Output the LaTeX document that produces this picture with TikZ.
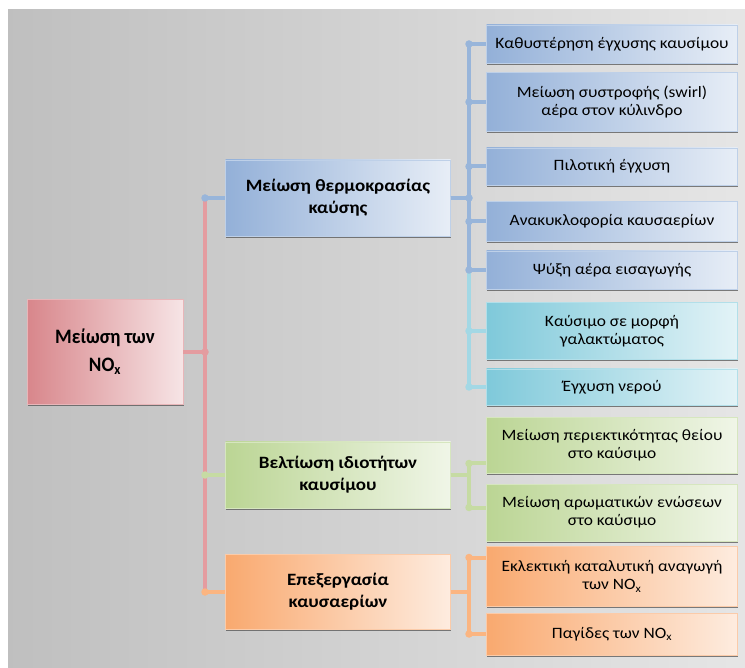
\documentclass[tikz,border=0pt]{standalone}
\usepackage{fontspec}
\setmainfont{Carlito}[FakeStretch=1.1]
\newfontfamily\rootfont{Carlito}[FakeStretch=0.93]
\usetikzlibrary{positioning,shadows}

\definecolor{rootred}{HTML}{D8868B}
\definecolor{tempblue}{HTML}{93B0D8}
\definecolor{emulcyan}{HTML}{7FC9DA}
\definecolor{fuelgreen}{HTML}{BBD594}
\definecolor{exhorange}{HTML}{F9A96F}
\definecolor{redline}{HTML}{E49CA0}
\definecolor{blueline}{HTML}{98B5DA}
\definecolor{cyanline}{HTML}{A3D8E5}
\definecolor{greenline}{HTML}{C6DBA3}
\definecolor{orangeline}{HTML}{FBB581}

\tikzset{
    box/.style={rectangle, align=center, inner sep=2pt, draw=#1!60!white, line width=0.5pt,
        left color=#1, right color=#1!22!white,
        drop shadow={shadow xshift=0.8pt, shadow yshift=-1.6pt, fill=black!70, opacity=0.7}},
    rootbox/.style={box=#1, minimum width=156pt, font=\rootfont\fontsize{20.5}{28}\selectfont\bfseries},
    mainbox/.style={box=#1, minimum width=225pt, font=\fontsize{17.3}{22}\selectfont\bfseries},
    subbox/.style={box=#1, minimum width=251pt, font=\fontsize{15.8}{18}\selectfont},
    link/.style={line width=4pt, draw=#1},
    dot/.style={circle, fill=#1, inner sep=0pt, minimum size=7.5pt},
}

\begin{document}
\begin{tikzpicture}[x=1pt, y=-1pt]
    % background
    \useasboundingbox (0,0) rectangle (745,668);
    \fill[white] (0,0) rectangle (745,668);
    \shade[left color=black!25, right color=black!10] (8,10) rectangle (745,668);

    % boxes
    \node[rootbox=rootred, minimum height=105pt] (root) at (105,352) {Μείωση των\\NO\textsubscript{x}};
    \node[mainbox=tempblue, minimum height=76pt] (temp) at (338,198) {Μείωση θερμοκρασίας\\καύσης};
    \node[mainbox=fuelgreen, minimum height=66pt] (fuel) at (338,475) {Βελτίωση ιδιοτήτων\\καυσίμου};
    \node[mainbox=exhorange, minimum height=75pt] (exh) at (338,592) {Επεξεργασία\\καυσαερίων};

    \node[subbox=tempblue, minimum height=38pt] (delay) at (612,44) {Καθυστέρηση έγχυσης καυσίμου};
    \node[subbox=tempblue, minimum height=59pt, below=9pt of delay] (swirl) {Μείωση συστροφής (swirl)\\αέρα στον κύλινδρο};
    \node[subbox=tempblue, minimum height=37pt, below=16pt of swirl] (pilot) {Πιλοτική έγχυση};
    \node[subbox=tempblue, minimum height=40pt, below=16pt of pilot] (egr) {Ανακυκλοφορία καυσαερίων};
    \node[subbox=tempblue, minimum height=38pt, below=9pt of egr] (cool) {Ψύξη αέρα εισαγωγής};
    \node[subbox=emulcyan, minimum height=57pt, below=13pt of cool] (emul) {Καύσιμο σε μορφή\\γαλακτώματος};
    \node[subbox=emulcyan, minimum height=36pt, below=9pt of emul] (water) {Έγχυση νερού};
    \node[subbox=fuelgreen, minimum height=56pt, below=12pt of water] (sulfur) {Μείωση περιεκτικότητας θείου\\στο καύσιμο};
    \node[subbox=fuelgreen, minimum height=57pt, below=10pt of sulfur] (arom) {Μείωση αρωματικών ενώσεων\\στο καύσιμο};
    \node[subbox=exhorange, minimum height=60pt, below=5pt of arom] (scr) {Εκλεκτική καταλυτική αναγωγή\\των NO\textsubscript{x}};
    \node[subbox=exhorange, minimum height=42pt, below=6pt of scr] (trap) {Παγίδες των NO\textsubscript{x}};

    % buses
    \coordinate (redbus) at (205,0);
    \coordinate (subbus) at (469,0);

    % root to the three ways
    \draw[link=redline] (redbus |- temp.west) -- (redbus |- exh.west);
    \draw[link=redline] (root.east) -- (root.east -| redbus) node[dot=redline] {};
    \draw[link=blueline] (redbus |- temp.west) node[dot=blueline] {} -- (temp.west);
    \draw[link=greenline] (redbus |- fuel.west) node[dot=greenline] {} -- (fuel.west);
    \draw[link=orangeline] (redbus |- exh.west) node[dot=orangeline] {} -- (exh.west);

    % temperature
    \draw[link=cyanline] (temp.east) -- (temp.east -| subbus) |- (water.west) node[dot=cyanline, pos=0.5] {};
    \draw[link=cyanline] (temp.east) -- (temp.east -| subbus) |- (emul.west) node[dot=cyanline, pos=0.5] {};
    \draw[link=blueline] (temp.east) -- (temp.east -| subbus) |- (cool.west) node[dot=blueline, pos=0.5] {};
    \draw[link=blueline] (temp.east) -- (temp.east -| subbus) |- (egr.west) node[dot=blueline, pos=0.5] {};
    \draw[link=blueline] (temp.east) -- (temp.east -| subbus) |- (pilot.west) node[dot=blueline, pos=0.5] {};
    \draw[link=blueline] (temp.east) -- (temp.east -| subbus) |- (swirl.west) node[dot=blueline, pos=0.5] {};
    \draw[link=blueline] (temp.east) -- (temp.east -| subbus) |- (delay.west) node[dot=blueline, pos=0.5] {};
    \node[dot=blueline] (tempjoin) at (temp.east -| subbus) {};

    % fuel
    \draw[link=greenline] (fuel.east) -- (fuel.east -| subbus) |- ([yshift=-18pt]sulfur.west) node[dot=greenline, pos=0.5] {};
    \draw[link=greenline] (fuel.east) -- (fuel.east -| subbus) |- ([yshift=5pt]arom.west) node[dot=greenline, pos=0.5] {};

    % exhaust
    \draw[link=orangeline] (exh.east) -- (exh.east -| subbus) |- ([yshift=19pt]scr.west) node[dot=orangeline, pos=0.5] {};
    \draw[link=orangeline] (exh.east) -- (exh.east -| subbus) |- (trap.west) node[dot=orangeline, pos=0.5] {};
\end{tikzpicture}
\end{document}
